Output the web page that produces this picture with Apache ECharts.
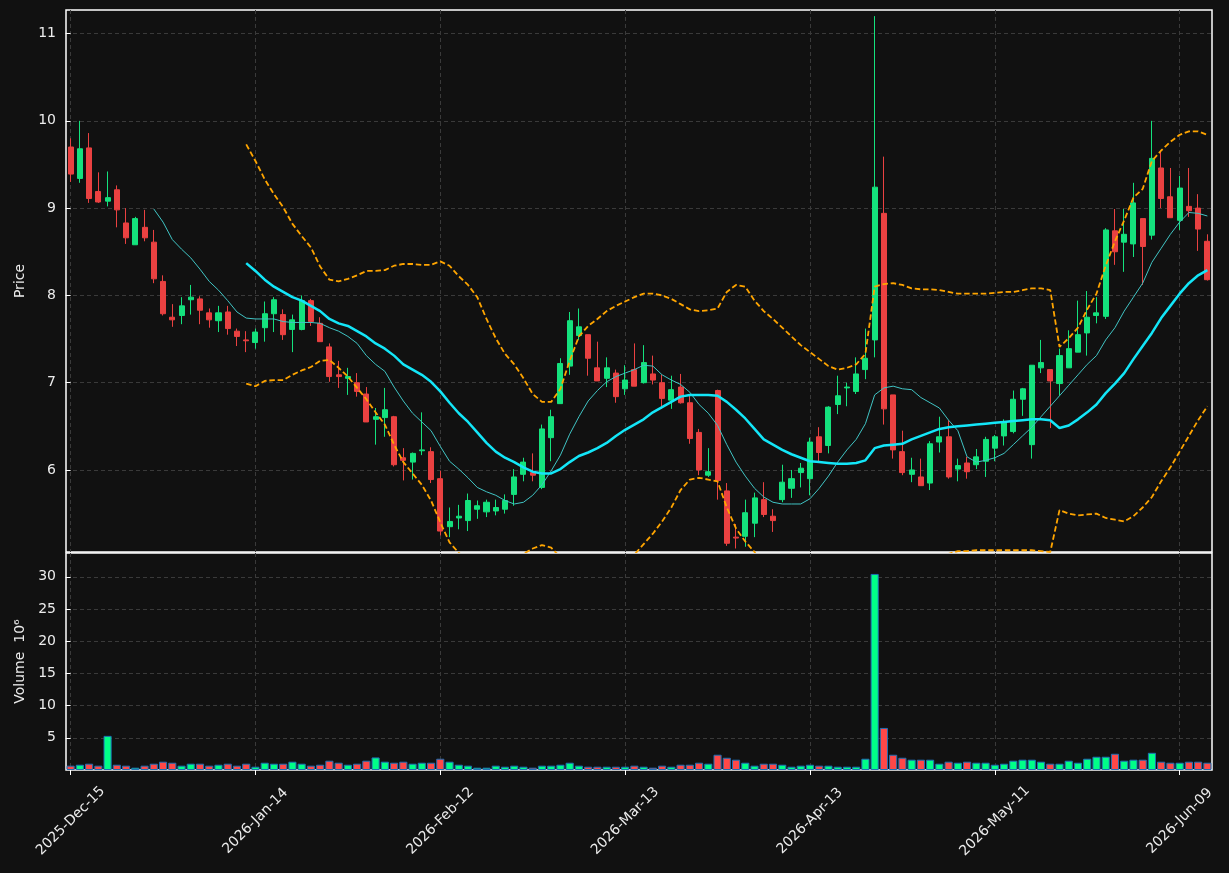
<!DOCTYPE html>
<html>
<head>
<meta charset="utf-8">
<title>Candles</title>
<script src="https://cdn.jsdelivr.net/npm/echarts@6/dist/echarts.min.js"></script>
<style>
    html, body { margin: 0; padding: 0; background: #111111; }
    #main { width: 1229px; height: 873px; }
</style>
</head>
<body>
<div id="main"></div>
<script>
'use strict';

// trading days
var dates = [
    '2025-Dec-15', '2025-Dec-16', '2025-Dec-17', '2025-Dec-18', '2025-Dec-19', '2025-Dec-22', '2025-Dec-23', '2025-Dec-24', '2025-Dec-26', '2025-Dec-29', '2025-Dec-30', '2025-Dec-31',
    '2026-Jan-02', '2026-Jan-05', '2026-Jan-06', '2026-Jan-07', '2026-Jan-08', '2026-Jan-09', '2026-Jan-12', '2026-Jan-13', '2026-Jan-14', '2026-Jan-15', '2026-Jan-16', '2026-Jan-20', '2026-Jan-21', '2026-Jan-22', '2026-Jan-23', '2026-Jan-26', '2026-Jan-27', '2026-Jan-28', '2026-Jan-29', '2026-Jan-30',
    '2026-Feb-02', '2026-Feb-03', '2026-Feb-04', '2026-Feb-05', '2026-Feb-06', '2026-Feb-09', '2026-Feb-10', '2026-Feb-11', '2026-Feb-12', '2026-Feb-13', '2026-Feb-17', '2026-Feb-18', '2026-Feb-19', '2026-Feb-20', '2026-Feb-23', '2026-Feb-24', '2026-Feb-25', '2026-Feb-26', '2026-Feb-27',
    '2026-Mar-02', '2026-Mar-03', '2026-Mar-04', '2026-Mar-05', '2026-Mar-06', '2026-Mar-09', '2026-Mar-10', '2026-Mar-11', '2026-Mar-12', '2026-Mar-13', '2026-Mar-16', '2026-Mar-17', '2026-Mar-18', '2026-Mar-19', '2026-Mar-20', '2026-Mar-23', '2026-Mar-24', '2026-Mar-25', '2026-Mar-26', '2026-Mar-27', '2026-Mar-30', '2026-Mar-31',
    '2026-Apr-01', '2026-Apr-02', '2026-Apr-06', '2026-Apr-07', '2026-Apr-08', '2026-Apr-09', '2026-Apr-10', '2026-Apr-13', '2026-Apr-14', '2026-Apr-15', '2026-Apr-16', '2026-Apr-17', '2026-Apr-20', '2026-Apr-21', '2026-Apr-22', '2026-Apr-23', '2026-Apr-24', '2026-Apr-27', '2026-Apr-28', '2026-Apr-29', '2026-Apr-30',
    '2026-May-01', '2026-May-04', '2026-May-05', '2026-May-06', '2026-May-07', '2026-May-08', '2026-May-11', '2026-May-12', '2026-May-13', '2026-May-14', '2026-May-15', '2026-May-18', '2026-May-19', '2026-May-20', '2026-May-21', '2026-May-22', '2026-May-26', '2026-May-27', '2026-May-28', '2026-May-29',
    '2026-Jun-01', '2026-Jun-02', '2026-Jun-03', '2026-Jun-04', '2026-Jun-05', '2026-Jun-08', '2026-Jun-09', '2026-Jun-10', '2026-Jun-11', '2026-Jun-12'
];

var opens = [
    9.70, 9.34, 9.69, 9.19, 9.08, 9.21, 8.83, 8.58, 8.78, 8.61, 8.16, 7.75, 7.77, 7.95, 7.96, 7.80, 7.71, 7.81, 7.59, 7.49,
    7.46, 7.63, 7.79, 7.78, 7.61, 7.61, 7.94, 7.68, 7.41, 7.09, 7.05, 7.00, 6.87, 6.58, 6.60, 6.61, 6.14, 6.09, 6.22, 6.21,
    5.90, 5.35, 5.45, 5.42, 5.55, 5.52, 5.53, 5.55, 5.72, 5.95, 5.97, 5.80, 6.37, 6.76, 7.19, 7.54, 7.55, 7.17, 7.05, 7.11,
    6.93, 7.15, 7.00, 7.10, 7.00, 6.80, 6.95, 6.77, 6.43, 5.94, 6.91, 5.76, 5.23, 5.24, 5.39, 5.66, 5.47, 5.66, 5.79, 5.97,
    5.90, 6.38, 6.28, 6.75, 6.94, 6.90, 7.15, 7.49, 8.94, 6.86, 6.21, 5.95, 5.92, 5.85, 6.32, 6.38, 6.01, 6.08, 6.06, 6.10,
    6.25, 6.39, 6.44, 6.81, 6.29, 7.17, 7.15, 6.99, 7.17, 7.35, 7.57, 7.77, 7.76, 8.74, 8.61, 8.59, 8.88, 8.69, 9.46, 9.13,
    8.86, 9.02, 9.00, 8.62
];
var closes = [
    9.39, 9.68, 9.11, 9.07, 9.12, 8.98, 8.66, 8.88, 8.66, 8.19, 7.79, 7.72, 7.88, 7.98, 7.83, 7.72, 7.80, 7.62, 7.53, 7.48,
    7.58, 7.79, 7.95, 7.55, 7.72, 7.94, 7.70, 7.47, 7.07, 7.07, 7.07, 6.90, 6.55, 6.61, 6.69, 6.06, 6.11, 6.19, 6.23, 5.89,
    5.30, 5.41, 5.47, 5.65, 5.59, 5.63, 5.57, 5.65, 5.92, 6.09, 5.94, 6.47, 6.61, 7.22, 7.71, 7.64, 7.28, 7.02, 7.17, 6.84,
    7.03, 6.96, 7.23, 7.03, 6.82, 6.92, 6.77, 6.36, 6.00, 5.98, 5.88, 5.16, 5.22, 5.51, 5.68, 5.49, 5.42, 5.86, 5.90, 6.02,
    6.32, 6.20, 6.72, 6.85, 6.95, 7.10, 7.28, 9.24, 6.70, 6.23, 5.97, 6.00, 5.82, 6.30, 6.38, 5.92, 6.05, 5.98, 6.15, 6.35,
    6.38, 6.55, 6.81, 6.93, 7.20, 7.23, 7.02, 7.31, 7.39, 7.55, 7.75, 7.80, 8.75, 8.50, 8.70, 9.06, 8.56, 9.57, 9.11, 8.89,
    9.23, 8.97, 8.76, 8.18
];
var lows = [
    9.30, 9.29, 9.06, 9.06, 9.02, 8.78, 8.59, 8.58, 8.62, 8.14, 7.77, 7.64, 7.67, 7.78, 7.67, 7.63, 7.58, 7.55, 7.42, 7.35,
    7.39, 7.47, 7.58, 7.49, 7.35, 7.60, 7.65, 7.47, 7.01, 6.94, 6.86, 6.84, 6.55, 6.29, 6.38, 6.04, 5.88, 5.89, 6.17, 5.85,
    5.25, 5.23, 5.32, 5.30, 5.44, 5.46, 5.48, 5.50, 5.59, 5.87, 5.87, 5.78, 6.10, 6.76, 7.09, 7.49, 7.08, 7.02, 6.95, 6.77,
    6.86, 6.96, 6.99, 6.98, 6.70, 6.70, 6.76, 6.30, 5.94, 5.92, 5.66, 5.13, 5.10, 5.12, 5.23, 5.46, 5.29, 5.63, 5.68, 5.80,
    5.71, 6.10, 6.19, 6.64, 6.73, 6.87, 7.04, 7.29, 6.52, 6.13, 5.94, 5.86, 5.82, 5.77, 6.20, 5.90, 5.87, 5.90, 6.01, 5.92,
    6.10, 6.28, 6.42, 6.62, 6.13, 7.11, 6.48, 6.85, 7.17, 7.35, 7.31, 7.68, 7.73, 8.35, 8.27, 8.44, 8.12, 8.64, 9.00, 8.89,
    8.75, 8.90, 8.51, 8.17
];
var highs = [
    9.80, 10.00, 9.86, 9.41, 9.42, 9.26, 9.00, 8.90, 8.98, 8.75, 8.23, 7.90, 7.98, 8.12, 7.99, 7.85, 7.88, 7.88, 7.62, 7.59,
    7.62, 7.93, 7.98, 7.84, 7.78, 8.00, 7.96, 7.75, 7.45, 7.25, 7.17, 7.11, 6.95, 6.71, 6.94, 6.62, 6.25, 6.20, 6.66, 6.26,
    5.99, 5.57, 5.60, 5.73, 5.65, 5.66, 5.66, 5.72, 6.01, 6.14, 6.19, 6.52, 6.69, 7.28, 7.81, 7.85, 7.55, 7.47, 7.29, 7.15,
    7.20, 7.45, 7.43, 7.31, 7.09, 7.08, 7.10, 6.87, 6.47, 6.25, 6.92, 5.85, 5.38, 5.66, 5.74, 5.86, 5.55, 6.06, 6.00, 6.08,
    6.37, 6.49, 6.73, 7.08, 7.00, 7.29, 7.62, 11.20, 9.59, 6.86, 6.45, 6.14, 6.13, 6.33, 6.61, 6.57, 6.13, 6.15, 6.24, 6.38,
    6.40, 6.58, 6.91, 6.94, 7.20, 7.49, 7.15, 7.39, 7.60, 7.94, 8.05, 7.98, 8.77, 8.99, 8.99, 9.29, 8.88, 10.00, 9.66, 9.46,
    9.37, 9.46, 9.16, 8.70
];

// volume, millions
var volumes = [
    0.67, 0.82, 0.98, 0.67, 5.30, 0.82, 0.67, 0.36, 0.67, 0.98, 1.29, 1.13, 0.67, 0.98, 0.98, 0.67, 0.82, 0.98, 0.67, 0.98,
    0.51, 1.13, 0.98, 0.98, 1.29, 0.98, 0.67, 0.82, 1.44, 1.13, 0.82, 0.98, 1.44, 1.95, 1.29, 1.13, 1.29, 0.98, 1.13, 1.13,
    1.75, 1.29, 0.82, 0.67, 0.36, 0.36, 0.67, 0.51, 0.67, 0.51, 0.36, 0.67, 0.67, 0.82, 1.13, 0.67, 0.51, 0.51, 0.51, 0.51,
    0.51, 0.67, 0.51, 0.36, 0.67, 0.51, 0.82, 0.82, 1.13, 0.98, 2.37, 1.90, 1.60, 1.13, 0.67, 0.98, 0.98, 0.82, 0.51, 0.67,
    0.82, 0.67, 0.67, 0.51, 0.51, 0.51, 1.75, 30.45, 6.53, 2.37, 1.90, 1.60, 1.60, 1.60, 0.98, 1.29, 1.13, 1.29, 1.13, 1.13,
    0.82, 0.98, 1.44, 1.60, 1.60, 1.29, 0.98, 0.98, 1.44, 1.13, 1.75, 2.06, 2.06, 2.52, 1.44, 1.60, 1.60, 2.67, 1.29, 1.13,
    1.13, 1.29, 1.29, 1.13
];

// short average (thin)
var maShort = [
    null, null, null, null, null, null, null, null, null, 8.99, 8.84, 8.64, 8.53, 8.43, 8.30, 8.16, 8.06, 7.94, 7.81, 7.74,
    7.73, 7.73, 7.73, 7.70, 7.69, 7.69, 7.69, 7.68, 7.63, 7.59, 7.53, 7.45, 7.31, 7.21, 7.13, 6.95, 6.79, 6.65, 6.55, 6.45,
    6.27, 6.10, 6.01, 5.91, 5.80, 5.75, 5.71, 5.65, 5.61, 5.63, 5.71, 5.83, 5.99, 6.17, 6.41, 6.61, 6.79, 6.91, 7.01, 7.07,
    7.11, 7.15, 7.20, 7.19, 7.09, 7.03, 6.98, 6.89, 6.75, 6.65, 6.51, 6.29, 6.09, 5.93, 5.79, 5.69, 5.63, 5.61, 5.61, 5.61,
    5.67, 5.79, 5.93, 6.09, 6.23, 6.35, 6.53, 6.86, 6.94, 6.96, 6.93, 6.92, 6.83, 6.77, 6.71, 6.57, 6.45, 6.15, 6.09, 6.11,
    6.14, 6.19, 6.29, 6.39, 6.49, 6.61, 6.73, 6.85, 6.97, 7.09, 7.21, 7.31, 7.49, 7.63, 7.82, 7.98, 8.14, 8.38, 8.54, 8.70,
    8.84, 8.95, 8.94, 8.91
];
// long average (thick)
var maLong = [
    null, null, null, null, null, null, null, null, null, null, null, null, null, null, null, null, null, null, null, 8.37,
    8.28, 8.18, 8.10, 8.04, 7.98, 7.94, 7.88, 7.82, 7.73, 7.68, 7.65, 7.59, 7.53, 7.45, 7.39, 7.31, 7.21, 7.15, 7.09, 7.01,
    6.90, 6.77, 6.65, 6.55, 6.43, 6.31, 6.21, 6.14, 6.09, 6.03, 5.98, 5.96, 5.96, 6.01, 6.09, 6.16, 6.20, 6.25, 6.31, 6.39,
    6.46, 6.52, 6.58, 6.66, 6.72, 6.78, 6.84, 6.86, 6.86, 6.86, 6.85, 6.78, 6.69, 6.59, 6.47, 6.35, 6.29, 6.23, 6.18, 6.14,
    6.10, 6.09, 6.08, 6.07, 6.07, 6.08, 6.11, 6.25, 6.28, 6.29, 6.30, 6.35, 6.39, 6.43, 6.47, 6.49, 6.50, 6.51, 6.52, 6.53,
    6.54, 6.55, 6.56, 6.57, 6.58, 6.58, 6.57, 6.48, 6.51, 6.58, 6.66, 6.75, 6.88, 6.99, 7.11, 7.27, 7.42, 7.57, 7.74, 7.88,
    8.02, 8.14, 8.23, 8.29
];
// bands (dashed), parts below the panel are estimates
var bandUpper = [
    null, null, null, null, null, null, null, null, null, null, null, null, null, null, null, null, null, null, null, 9.73,
    9.54, 9.33, 9.16, 9.01, 8.82, 8.68, 8.55, 8.33, 8.18, 8.16, 8.19, 8.23, 8.28, 8.28, 8.29, 8.34, 8.36, 8.36, 8.35, 8.35,
    8.39, 8.34, 8.22, 8.12, 7.98, 7.73, 7.51, 7.33, 7.21, 7.05, 6.87, 6.78, 6.78, 6.93, 7.25, 7.53, 7.65, 7.73, 7.82, 7.88,
    7.93, 7.98, 8.02, 8.02, 8.00, 7.96, 7.90, 7.84, 7.82, 7.83, 7.85, 8.04, 8.12, 8.10, 7.94, 7.82, 7.73, 7.63, 7.53, 7.43,
    7.35, 7.27, 7.19, 7.15, 7.17, 7.21, 7.33, 8.10, 8.13, 8.14, 8.12, 8.08, 8.07, 8.07, 8.06, 8.04, 8.02, 8.02, 8.02, 8.02,
    8.03, 8.04, 8.04, 8.06, 8.08, 8.08, 8.06, 7.41, 7.51, 7.63, 7.84, 8.02, 8.34, 8.62, 8.86, 9.12, 9.22, 9.54, 9.66, 9.76,
    9.84, 9.88, 9.88, 9.84
];
var bandLower = [
    null, null, null, null, null, null, null, null, null, null, null, null, null, null, null, null, null, null, null, 6.99,
    6.96, 7.02, 7.03, 7.03, 7.09, 7.14, 7.18, 7.25, 7.26, 7.17, 7.07, 6.94, 6.81, 6.66, 6.52, 6.29, 6.09, 5.96, 5.83, 5.65,
    5.40, 5.17, 5.05, 4.97, 4.88, 4.89, 4.91, 4.95, 4.99, 5.04, 5.10, 5.14, 5.11, 5.00, 4.90, 4.79, 4.75, 4.77, 4.80, 4.90,
    4.97, 5.03, 5.15, 5.27, 5.41, 5.57, 5.77, 5.89, 5.91, 5.89, 5.87, 5.57, 5.33, 5.18, 5.06, 4.88, 4.85, 4.83, 4.83, 4.85,
    4.85, 4.90, 4.95, 4.99, 4.97, 4.95, 4.89, 4.40, 4.43, 4.44, 4.48, 4.62, 4.71, 4.79, 4.88, 5.04, 5.07, 5.07, 5.08, 5.08,
    5.08, 5.08, 5.08, 5.08, 5.08, 5.07, 5.06, 5.54, 5.50, 5.48, 5.49, 5.50, 5.45, 5.43, 5.41, 5.47, 5.57, 5.69, 5.87, 6.03,
    6.21, 6.39, 6.57, 6.73
];

var upColor = '#14e27d',
    downColor = '#ea4141',
    volUpColor = '#00ff88',
    volDownColor = '#ff4848',
    textColor = '#ececec',
    gridColor = '#3a3a3a',
    frameColor = '#ffffff';

$init();

function $init() {
    var candles = [];
    var vols = [];
    for (var i = 0; i < dates.length; i++) {
        candles.push([opens[i], closes[i], lows[i], highs[i]]);
        vols.push({
            value: volumes[i],
            itemStyle: { color: closes[i] >= opens[i] ? volUpColor : volDownColor }
        });
    }

    var dashed = { color: gridColor, width: 1, type: [4, 3] };
    var labelFont = { color: textColor, fontSize: 14, fontFamily: 'DejaVu Sans' };

    // value axis used only for vertical grid lines on the tick positions
    function gridXAxis(idx) {
        return {
            type: 'value',
            gridIndex: idx,
            min: -0.5,
            max: dates.length - 0.5,
            axisLine: { show: false },
            axisTick: { show: false },
            axisLabel: { show: false },
            splitLine: { show: true, showMinLine: false, showMaxLine: false, lineStyle: dashed }
        };
    }

    var option = {
        backgroundColor: '#111111',
        animation: false,
        grid: [{
            left: 66, top: 10, width: 1146, height: 542,
            show: true, borderColor: frameColor, borderWidth: 1.5
        }, {
            left: 66, top: 553, width: 1146, height: 217,
            show: true, borderColor: frameColor, borderWidth: 1.5
        }],
        xAxis: [{
            type: 'category',
            gridIndex: 0,
            data: dates,
            boundaryGap: true,
            axisLine: { show: false },
            axisTick: { show: false },
            axisLabel: { show: false },
            splitLine: { show: false }
        }, {
            type: 'category',
            gridIndex: 1,
            data: dates,
            boundaryGap: true,
            axisLine: { show: false },
            axisTick: {
                show: true,
                interval: 19,
                alignWithLabel: true,
                length: 5,
                lineStyle: { color: frameColor }
            },
            // labels centred under the tick, as in the picture
            axisLabel: Object.assign({
                interval: 19,
                rotate: 45,
                margin: 51,
                align: 'center',
                verticalAlign: 'middle'
            }, labelFont),
            splitLine: { show: false }
        }, gridXAxis(0), gridXAxis(1)],
        yAxis: [{
            type: 'value',
            gridIndex: 0,
            min: 5.06,
            max: 11.27,
            name: 'Price',
            nameLocation: 'middle',
            nameGap: 34,
            nameTextStyle: labelFont,
            axisLine: { show: false },
            axisTick: { show: true, length: 5, lineStyle: { color: frameColor } },
            axisLabel: Object.assign({ showMinLabel: false, showMaxLabel: false, margin: 10 }, labelFont),
            splitLine: { show: true, showMinLine: false, showMaxLine: false, lineStyle: dashed }
        }, {
            type: 'value',
            gridIndex: 1,
            min: 0,
            max: 33.7,
            name: 'Volume  10\u2076',
            nameLocation: 'middle',
            nameGap: 38,
            nameTextStyle: labelFont,
            axisLine: { show: false },
            axisTick: { show: true, length: 5, lineStyle: { color: frameColor } },
            axisLabel: Object.assign({ showMinLabel: false, showMaxLabel: false, margin: 10 }, labelFont),
            splitLine: { show: true, showMinLine: false, showMaxLine: false, lineStyle: dashed }
        }],
        series: [{
            type: 'candlestick',
            xAxisIndex: 0,
            yAxisIndex: 0,
            data: candles,
            barWidth: '60%',
            itemStyle: {
                color: upColor,
                color0: downColor,
                borderColor: upColor,
                borderColor0: downColor,
                borderWidth: 1
            }
        }, {
            type: 'line',
            xAxisIndex: 0,
            yAxisIndex: 0,
            data: maShort,
            symbol: 'none',
            z: 3,
            lineStyle: { color: '#40c4c4', width: 1 }
        }, {
            type: 'line',
            xAxisIndex: 0,
            yAxisIndex: 0,
            data: maLong,
            symbol: 'none',
            z: 3,
            lineStyle: { color: '#13e6f8', width: 2.5 }
        }, {
            type: 'line',
            xAxisIndex: 0,
            yAxisIndex: 0,
            data: bandUpper,
            symbol: 'none',
            z: 3,
            lineStyle: { color: '#ffa500', width: 1.8, type: [5.5, 2.8] }
        }, {
            type: 'line',
            xAxisIndex: 0,
            yAxisIndex: 0,
            data: bandLower,
            symbol: 'none',
            z: 3,
            lineStyle: { color: '#ffa500', width: 1.8, type: [5.5, 2.8] }
        }, {
            type: 'bar',
            xAxisIndex: 1,
            yAxisIndex: 1,
            data: vols,
            barWidth: '88%',
            itemStyle: { borderColor: '#1f6fb4', borderWidth: 1 }
        }]
    };

    var myChart = echarts.init(document.getElementById('main'));
    myChart.setOption(option);
}
</script>
</body>
</html>
